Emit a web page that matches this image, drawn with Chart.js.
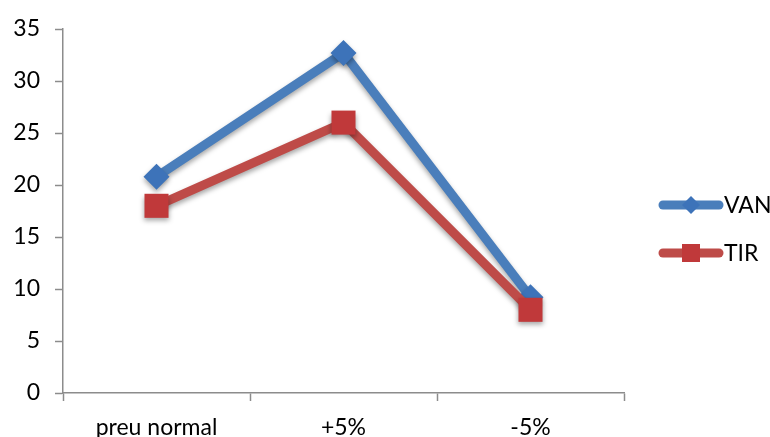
<!DOCTYPE html>
<html>
<head>
<meta charset="utf-8">
<script src="https://cdn.jsdelivr.net/npm/chart.js@4"></script>
<style>
  html, body { margin: 0; padding: 0; background: #fff; }
  #wrap { width: 770px; height: 437px; }
</style>
</head>
<body>
<div id="wrap"><canvas id="chart" width="770" height="437"></canvas></div>
<script>
// Chart data
const categories = ['preu normal', '+5%', '-5%'];
const vanValues = [20.8, 32.7, 9.2];
const tirValues = [18, 26, 8];
const seriesNames = ['VAN', 'TIR'];
const yTicks = [0, 5, 10, 15, 20, 25, 30, 35];

const blue = '#4a7ebb';
const red = '#be4b48';
const axisGrey = '#8c8c8c';
const fontFamily = 'Lato, "Open Sans", sans-serif';
const fontSize = 23;

// Soft drop shadow under the lines/markers
const shadowPlugin = {
    id: 'shadow',
    beforeDatasetsDraw(chart) {
        const ctx = chart.ctx;
        ctx.save();
        ctx.shadowColor = 'rgba(0,0,0,0.35)';
        ctx.shadowBlur = 5;
        ctx.shadowOffsetY = 3;
    },
    afterDatasetsDraw(chart) {
        chart.ctx.restore();
    }
};

// Legend on the right: line with marker, then text
const sideLegend = {
    id: 'sideLegend',
    afterDraw(chart) {
        const ctx = chart.ctx;
        const x0 = 663, x1 = 719;
        const rows = [205, 253];
        chart.data.datasets.forEach((ds, i) => {
            const y = rows[i];
            ctx.save();
            ctx.strokeStyle = ds.borderColor;
            ctx.lineWidth = 9;
            ctx.lineCap = 'round';
            ctx.beginPath();
            ctx.moveTo(x0, y);
            ctx.lineTo(x1, y);
            ctx.stroke();
            ctx.fillStyle = ds.pointBackgroundColor;
            ctx.beginPath();
            const cx = (x0 + x1) / 2;
            if (ds.pointStyle === 'rectRot') {
                ctx.moveTo(cx, y - 9); ctx.lineTo(cx + 9, y);
                ctx.lineTo(cx, y + 9); ctx.lineTo(cx - 9, y);
            } else {
                ctx.rect(cx - 9, y - 9, 18, 18);
            }
            ctx.fill();
            ctx.fillStyle = '#000';
            ctx.font = fontSize + 'px ' + fontFamily;
            ctx.textBaseline = 'middle';
            ctx.fillText(ds.label, x1 + 5, y + 1);
            ctx.restore();
        });
    }
};

new Chart(document.getElementById('chart'), {
    type: 'line',
    data: {
        labels: categories,
        datasets: [{
            label: seriesNames[0],
            data: vanValues,
            order: 1,
            borderColor: blue,
            backgroundColor: blue,
            pointBackgroundColor: '#3d73b9',
            pointBorderColor: '#3d73b9',
            borderWidth: 9,
            pointStyle: 'rectRot',
            pointRadius: 13,
            pointBorderWidth: 0,
            tension: 0
        }, {
            label: seriesNames[1],
            data: tirValues,
            order: 0,
            borderColor: red,
            backgroundColor: red,
            pointBackgroundColor: '#c0393a',
            pointBorderColor: '#c0393a',
            borderWidth: 9,
            pointStyle: 'rect',
            pointRadius: 17,
            pointBorderWidth: 0,
            tension: 0
        }]
    },
    options: {
        responsive: false,
        animation: false,
        layout: { padding: { top: 29, right: 146, left: 0, bottom: 0 } },
        plugins: {
            legend: { display: false },
            tooltip: { enabled: false }
        },
        scales: {
            x: {
                offset: true,
                grid: { drawOnChartArea: false, offset: true, color: axisGrey, tickLength: 8, tickWidth: 1.5 },
                border: { color: axisGrey, width: 1.5 },
                ticks: { color: '#000', font: { family: fontFamily, size: fontSize }, padding: 13, maxRotation: 0 },
                afterFit(scale) { scale.height = 44; }
            },
            y: {
                min: 0,
                max: 35,
                afterBuildTicks(scale) { scale.ticks = yTicks.map(v => ({ value: v })); },
                grid: { drawOnChartArea: false, color: axisGrey, tickLength: 8, tickWidth: 1.5 },
                border: { color: axisGrey, width: 1.5 },
                ticks: { color: '#000', font: { family: fontFamily, size: fontSize }, padding: 15 },
                afterFit(scale) { scale.width = 63; }
            }
        }
    },
    plugins: [shadowPlugin, sideLegend]
});
</script>
</body>
</html>
